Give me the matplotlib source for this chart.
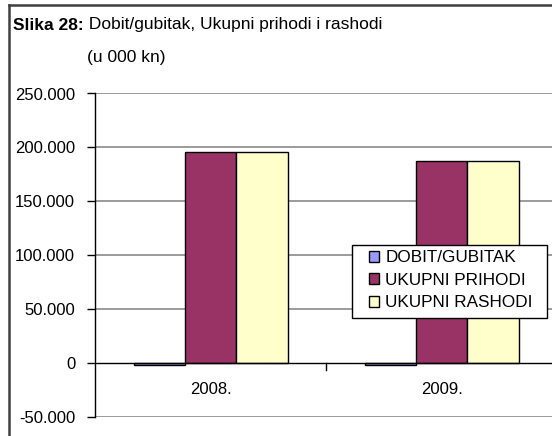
import matplotlib.pyplot as plt
from matplotlib.lines import Line2D
from matplotlib.patches import Rectangle
from matplotlib.ticker import FuncFormatter
import numpy as np

# podaci (u 000 kn)
godine = ['2008.', '2009.']
serije = ['DOBIT/GUBITAK', 'UKUPNI PRIHODI', 'UKUPNI RASHODI']
dobit_gubitak = [-1500, -1500]
ukupni_prihodi = [195400, 187400]
ukupni_rashodi = [195400, 187400]
boje = ['#9999FF', '#993366', '#FFFFCC']

plt.rcParams['font.family'] = ['Liberation Sans', 'DejaVu Sans']

W, H = 552, 436
fig = plt.figure(figsize=(W / 100, H / 100), dpi=100)
x0, y_top, y_bot = 95, 93.5, 417
sirina_kat = 231
ax = fig.add_axes([x0 / W, 1 - y_bot / H, (W - x0) / W, (y_bot - y_top) / H])

x = np.arange(len(godine))
sirina = 1 / 4.5
for k, (vals, lab) in enumerate(zip([dobit_gubitak, ukupni_prihodi, ukupni_rashodi], serije)):
    ax.bar(x + (k - 1) * sirina, vals, width=sirina, color=boje[k], edgecolor='black',
           linewidth=1.0, label=lab, zorder=3)

ax.set_ylim(-50000, 250000)
ax.set_yticks(np.arange(-50000, 250001, 50000))
ax.yaxis.set_major_formatter(FuncFormatter(lambda v, p: f'{int(v):,}'.replace(',', '.')))
ax.set_xlim(-0.5, -0.5 + (W - x0) / sirina_kat)

# mreza
for v in np.arange(-50000, 250001, 50000):
    if v != 0:
        ax.axhline(v, color='#808080', linewidth=1.1, zorder=1)
ax.axhline(0, color='black', linewidth=1.0, zorder=4)

for s in ['top', 'right', 'bottom']:
    ax.spines[s].set_visible(False)
ax.spines['left'].set_color('black')
ax.spines['left'].set_linewidth(1.0)

ax.tick_params(axis='y', direction='out', length=5.8, width=1, pad=8.5, labelsize=12)
ax.set_xticks([])
# oznake kategorija i crtica izmedju njih
for i, g in enumerate(godine):
    ax.text(i, -24500, g, ha='center', va='center', fontsize=12)
ax.plot([0.5, 0.5], [0, -6000], color='black', linewidth=1, clip_on=False, zorder=4)

# legenda (okvir posebno)
ax.add_patch(Rectangle((352 / W, 1 - 318 / H), 195 / W, 73 / H, transform=fig.transFigure,
                       facecolor='white', edgecolor='black', linewidth=1.0, zorder=5,
                       clip_on=False))
leg = ax.legend(loc='upper left', bbox_to_anchor=(369 / W, 1 - 250.5 / H),
                bbox_transform=fig.transFigure, borderaxespad=0, borderpad=0, frameon=False,
                handlelength=0.6, handleheight=0.6, handletextpad=0.35, labelspacing=0.43,
                prop={'size': 12.3})
leg.set_zorder(6)
for p in leg.get_patches():
    p.set_linewidth(1.0)

# naslov
t1 = fig.text(13 / W, 1 - 25 / H, 'Slika 28:', fontsize=12.5, fontweight='bold', va='center')
ax.annotate(' Dobit/gubitak, Ukupni prihodi i rashodi', xy=(1, 0), xycoords=t1,
            va='bottom', ha='left', fontsize=12.5, annotation_clip=False)
fig.text(87 / W, 1 - 57 / H, '(u 000 kn)', fontsize=12.5, va='center')

# okvir slike
fig.add_artist(Line2D([9 / W, 9 / W], [0, 1 - 5.5 / H], color='#404040', linewidth=1.8))
fig.add_artist(Line2D([9 / W, 1], [1 - 5.5 / H, 1 - 5.5 / H], color='#404040', linewidth=1.8))

fig.savefig('out.png', dpi=100)
